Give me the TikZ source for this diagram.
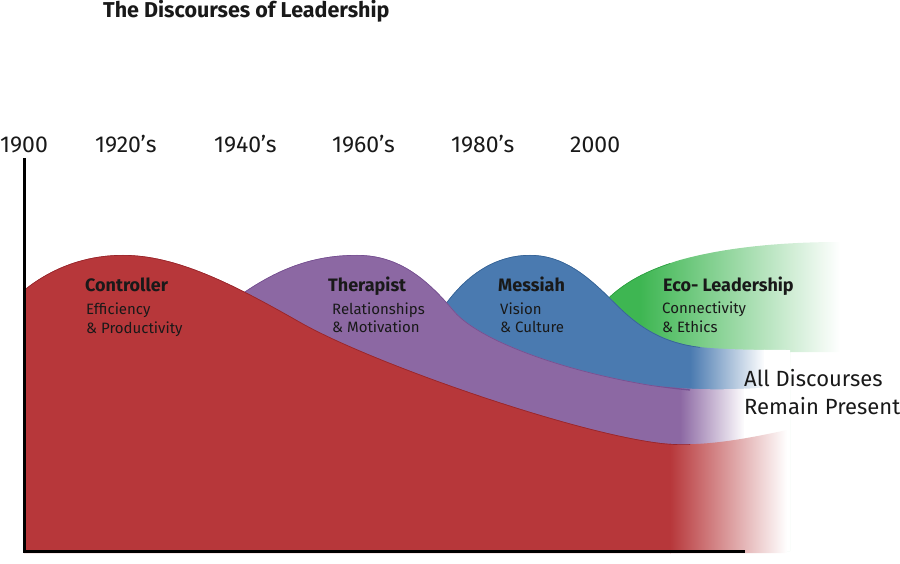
\documentclass[tikz,border=0pt]{standalone}
\usepackage{fontspec}
\setmainfont{Fira Sans}
\definecolor{cRed}{RGB}{183,55,58}
\definecolor{cRedE}{RGB}{150,38,44}
\definecolor{cPur}{RGB}{140,104,163}
\definecolor{cPurE}{RGB}{118,80,145}
\definecolor{cBlu}{RGB}{74,122,176}
\definecolor{cBluE}{RGB}{55,100,150}
\definecolor{cGrn}{RGB}{62,182,82}
\definecolor{cGrnE}{RGB}{45,160,65}
\begin{document}
\begin{tikzpicture}[x=1pt,y=-1pt,
  lbl/.style={inner sep=0pt, anchor=base west, text=black!90},
  titlelbl/.style={lbl, font=\bfseries\fontsize{21.5}{24}\selectfont},
  yearlbl/.style={lbl, font=\fontsize{23}{26}\selectfont},
  headlbl/.style={lbl, font=\bfseries\fontsize{18}{21}\selectfont},
  sublbl/.style={lbl, font=\fontsize{15}{18}\selectfont},
  biglbl/.style={lbl, font=\fontsize{22}{26}\selectfont},
  axisline/.style={line width=3pt, black},
  edge/.style={line width=1.3pt}]
\useasboundingbox (0,0) rectangle (900,564);

% ---------- Eco-Leadership (green)
\begin{scope}
\clip (585,551) -- (585,330) .. controls (605,290) and (640,272) .. (680,260) .. controls (730,246) and (790,242) .. (840,242) -- (840,352) -- (790,352) -- (790,551) -- cycle;
\fill[cGrn] (570,230) rectangle (641,560);
\shade[left color=cGrn, right color=white] (640,230) rectangle (840,560);
\clip (570,230) rectangle (670,560);
\draw[edge, cGrnE] (585,330) .. controls (605,290) and (640,272) .. (680,260);
\end{scope}

% ---------- Messiah (blue)
\begin{scope}
\clip (432,551) -- (432,325) .. controls (460,275) and (495,255) .. (530,255) .. controls (565,255) and (590,278) .. (615,303) .. controls (640,328) and (665,345) .. (710,348) .. controls (740,350) and (770,350) .. (790,350) -- (790,551) -- cycle;
\fill[cBlu] (420,230) rectangle (691,560);
\shade[left color=cBlu, right color=white] (690,230) rectangle (765,560);
\fill[white] (764,230) rectangle (792,560);
\clip (420,230) rectangle (700,560);
\draw[edge, cBluE] (432,325) .. controls (460,275) and (495,255) .. (530,255) .. controls (565,255) and (590,278) .. (615,303) .. controls (640,328) and (665,345) .. (710,348);
\end{scope}

% ---------- Therapist (purple)
\begin{scope}
\clip (220,551) -- (220,310) .. controls (270,270) and (310,255) .. (357,255) .. controls (400,255) and (428,280) .. (455,312) .. controls (480,340) and (560,370) .. (650,385) .. controls (700,392) and (750,389) .. (790,386) -- (790,551) -- cycle;
\fill[cPur] (210,230) rectangle (681,560);
\shade[left color=cPur, right color=white] (680,230) rectangle (745,560);
\fill[white] (744,230) rectangle (792,560);
\clip (210,230) rectangle (690,560);
\draw[edge, cPurE] (220,310) .. controls (270,270) and (310,255) .. (357,255) .. controls (400,255) and (428,280) .. (455,312) .. controls (480,340) and (560,370) .. (650,385) .. controls (670,388) and (680,389) .. (690,390);
\end{scope}

% ---------- Controller (red)
\begin{scope}
\clip (24,553) -- (24,290) .. controls (55,265) and (90,255) .. (123,255) .. controls (175,255) and (230,282) .. (300,322) .. controls (370,362) and (570,432) .. (660,443) .. controls (700,448) and (750,438) .. (787,430) -- (787,553) -- cycle;
\fill[cRed] (20,230) rectangle (671,560);
\shade[left color=cRed, right color=white] (670,230) rectangle (787,560);
\clip (20,230) rectangle (690,560);
\draw[edge, cRedE] (24,290) .. controls (55,265) and (90,255) .. (123,255) .. controls (175,255) and (230,282) .. (300,322) .. controls (370,362) and (570,432) .. (660,443) .. controls (700,448) and (750,438) .. (787,430);
\end{scope}

% ---------- axes
\coordinate (ytop) at (24,158);
\coordinate (orig) at (24,551);
\coordinate (xend) at (745,551);
\draw[axisline] (ytop) -- (orig) -- (xend);

% ---------- title and years
\node[titlelbl] (title) at (103,18) {The Discourses of Leadership};
\node[yearlbl] (y1900) at (0,153) {1900};
\node[yearlbl] (y1920) at (95,153) {1920’s};
\node[yearlbl] (y1940) at (214,153) {1940’s};
\node[yearlbl] (y1960) at (332,153) {1960’s};
\node[yearlbl] (y1980) at (451,153) {1980’s};
\node[yearlbl] (y2000) at (570,153) {2000};

% ---------- labels
\node[headlbl] (ctl) at (85,291) {Controller};
\node[sublbl] (ctl1) at (86,314) {Efficiency};
\node[sublbl] (ctl2) at (86,333) {\& Productivity};

\node[headlbl] (thp) at (328,291) {Therapist};
\node[sublbl] (thp1) at (332,314) {Relationships};
\node[sublbl] (thp2) at (332,332) {\& Motivation};

\node[headlbl] (mes) at (498,291) {Messiah};
\node[sublbl] (mes1) at (500,314) {Vision};
\node[sublbl] (mes2) at (500,332) {\& Culture};

\node[headlbl] (eco) at (663,291) {Eco- Leadership};
\node[sublbl] (eco1) at (662,313) {Connectivity};
\node[sublbl] (eco2) at (662,332) {\& Ethics};

\node[biglbl] (all1) at (744,386) {All Discourses};
\node[biglbl] (all2) at (744,414) {Remain Present};
\end{tikzpicture}
\end{document}
